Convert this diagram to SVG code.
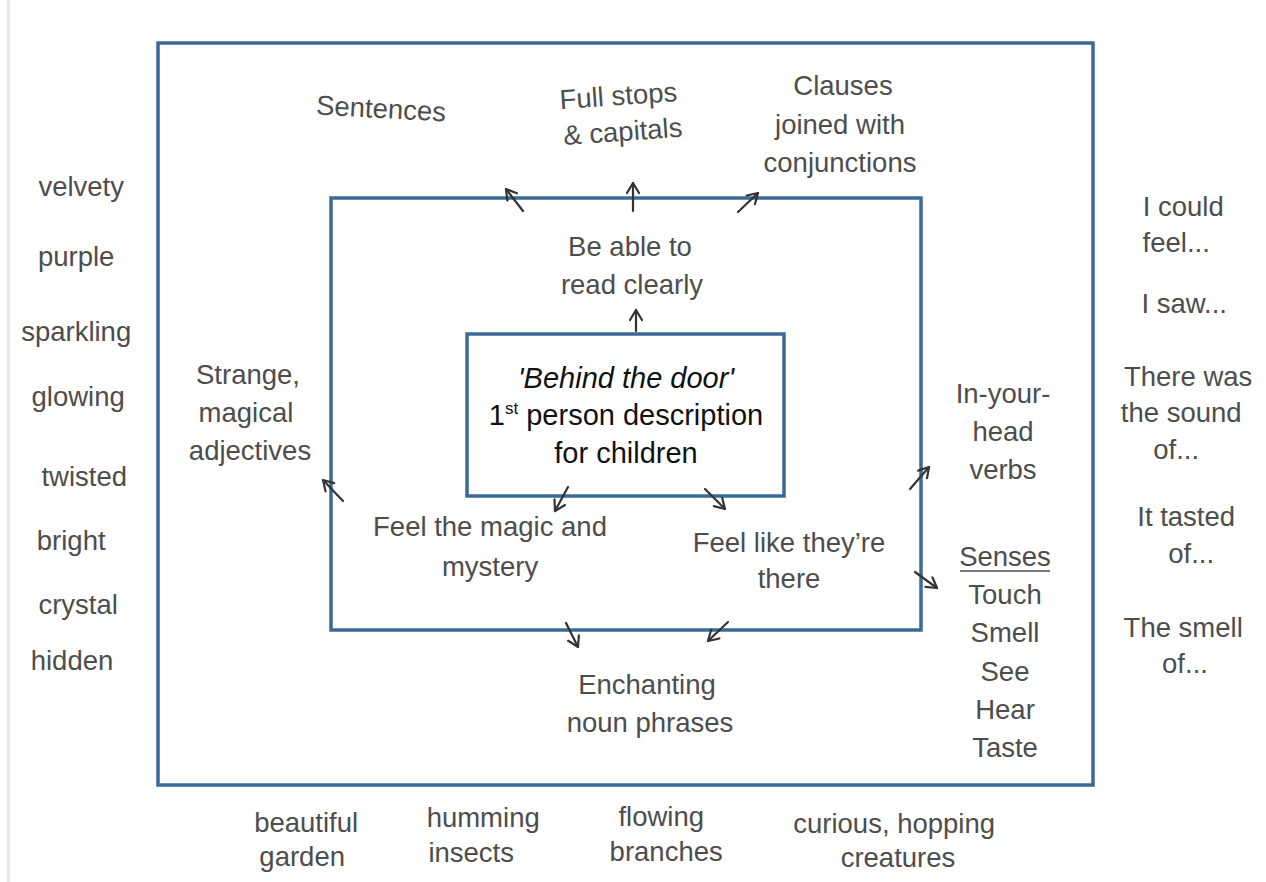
<svg xmlns="http://www.w3.org/2000/svg" width="1266" height="882" viewBox="0 0 1266 882">
<defs>
<style>
.box{fill:none;stroke:#3c6a96;stroke-width:3.5}
.t{font-family:"Liberation Sans","DejaVu Sans",sans-serif;font-size:27.5px;fill:#4d4d4d;text-anchor:middle}
.c{font-family:"Liberation Sans","DejaVu Sans",sans-serif;font-size:29px;fill:#111;text-anchor:middle}
.a{fill:none;stroke:#333;stroke-width:2.2;stroke-linecap:round}
</style>
<marker id="ah" viewBox="0 0 14 14" refX="12" refY="7" markerWidth="14" markerHeight="14" markerUnits="userSpaceOnUse" orient="auto">
<path d="M2,1 L12,7 L2,13" fill="none" stroke="#333" stroke-width="2.2" stroke-linecap="round" stroke-linejoin="round"/>
</marker>
</defs>
<rect width="1266" height="882" fill="#fff"/>
<rect x="7" y="0" width="3" height="882" fill="#e8e8e8"/>
<g id="outer-box"><rect class="box" x="158" y="43" width="935" height="742"/></g>
<g id="middle-box"><rect class="box" x="331" y="198" width="590" height="432"/></g>
<g id="center"><rect class="box" x="467" y="334" width="317" height="162"/>
<text class="c" x="626" y="388" font-style="italic">'Behind the door'</text>
<text class="c" x="626" y="425">1<tspan font-size="17" dy="-11">st</tspan><tspan dy="11"> person description</tspan></text>
<text class="c" x="626" y="463">for children</text>
</g>
<g id="connectors">
<line class="a" x1="523" y1="211" x2="506" y2="189" marker-end="url(#ah)"/>
<line class="a" x1="633" y1="211" x2="633" y2="183" marker-end="url(#ah)"/>
<line class="a" x1="738" y1="212" x2="758" y2="193" marker-end="url(#ah)"/>
<line class="a" x1="636" y1="331" x2="636" y2="310" marker-end="url(#ah)"/>
<line class="a" x1="343" y1="501" x2="323" y2="480" marker-end="url(#ah)"/>
<line class="a" x1="568" y1="487" x2="555" y2="511" marker-end="url(#ah)"/>
<line class="a" x1="566" y1="623" x2="578" y2="647" marker-end="url(#ah)"/>
<line class="a" x1="705" y1="489" x2="725" y2="509" marker-end="url(#ah)"/>
<line class="a" x1="910" y1="489" x2="929" y2="467" marker-end="url(#ah)"/>
<line class="a" x1="915" y1="572" x2="937" y2="588" marker-end="url(#ah)"/>
<line class="a" x1="728" y1="622" x2="708" y2="641" marker-end="url(#ah)"/>
</g>
<g id="sentences"><text class="t" x="381" y="118" transform="rotate(3 381 110)">Sentences</text></g>
<g id="full-stops"><text class="t" transform="rotate(-4 620 120)"><tspan x="620" y="105">Full stops</tspan><tspan x="622" y="141">&amp; capitals</tspan></text></g>
<g id="clauses"><text class="t"><tspan x="843" y="95">Clauses</tspan><tspan x="840" y="134">joined with</tspan><tspan x="840" y="172">conjunctions</tspan></text></g>
<g id="read-clearly"><text class="t"><tspan x="630" y="256">Be able to</tspan><tspan x="632" y="294">read clearly</tspan></text></g>
<g id="adjectives"><text class="t"><tspan x="248" y="384">Strange,</tspan><tspan x="246" y="422">magical</tspan><tspan x="250" y="460">adjectives</tspan></text></g>
<g id="verbs"><text class="t"><tspan x="1003" y="403">In-your-</tspan><tspan x="1003" y="441">head</tspan><tspan x="1003" y="479">verbs</tspan></text></g>
<g id="magic"><text class="t"><tspan x="490" y="536">Feel the magic and</tspan><tspan x="490" y="576">mystery</tspan></text></g>
<g id="there"><text class="t"><tspan x="789" y="552">Feel like they’re</tspan><tspan x="789" y="588">there</tspan></text></g>
<g id="senses"><text class="t"><tspan x="1005" y="566">Senses</tspan><tspan x="1005" y="604">Touch</tspan><tspan x="1005" y="642">Smell</tspan><tspan x="1005" y="681">See</tspan><tspan x="1005" y="719">Hear</tspan><tspan x="1005" y="757">Taste</tspan></text>
<line x1="960" y1="571" x2="1050" y2="571" stroke="#4d4d4d" stroke-width="1.6"/></g>
<g id="noun-phrases"><text class="t"><tspan x="647" y="694">Enchanting</tspan><tspan x="650" y="732">noun phrases</tspan></text></g>
<g id="left-words"><text class="t">
<tspan x="85" y="196">velvety</tspan>
<tspan x="80" y="266">purple</tspan>
<tspan x="80" y="341">sparkling</tspan>
<tspan x="82" y="406">glowing</tspan>
<tspan x="88" y="486">twisted</tspan>
<tspan x="75" y="550">bright</tspan>
<tspan x="82" y="614">crystal</tspan>
<tspan x="72" y="670">hidden</tspan>
</text></g>
<g id="right-words"><text class="t">
<tspan x="1187" y="216">I could</tspan>
<tspan x="1180" y="252">feel...</tspan>
<tspan x="1188" y="313">I saw...</tspan>
<tspan x="1192" y="386">There was</tspan>
<tspan x="1185" y="422">the sound</tspan>
<tspan x="1180" y="459">of...</tspan>
<tspan x="1190" y="526">It tasted</tspan>
<tspan x="1195" y="563">of...</tspan>
<tspan x="1187" y="637">The smell</tspan>
<tspan x="1185" y="673">of...</tspan>
</text></g>
<g id="bottom-words"><text class="t">
<tspan x="310" y="832">beautiful</tspan>
<tspan x="306" y="866">garden</tspan>
<tspan x="487" y="827">humming</tspan>
<tspan x="475" y="862">insects</tspan>
<tspan x="665" y="826">flowing</tspan>
<tspan x="670" y="861">branches</tspan>
<tspan x="898" y="833">curious, hopping</tspan>
<tspan x="898" y="867">creatures</tspan>
</text></g>
</svg>
